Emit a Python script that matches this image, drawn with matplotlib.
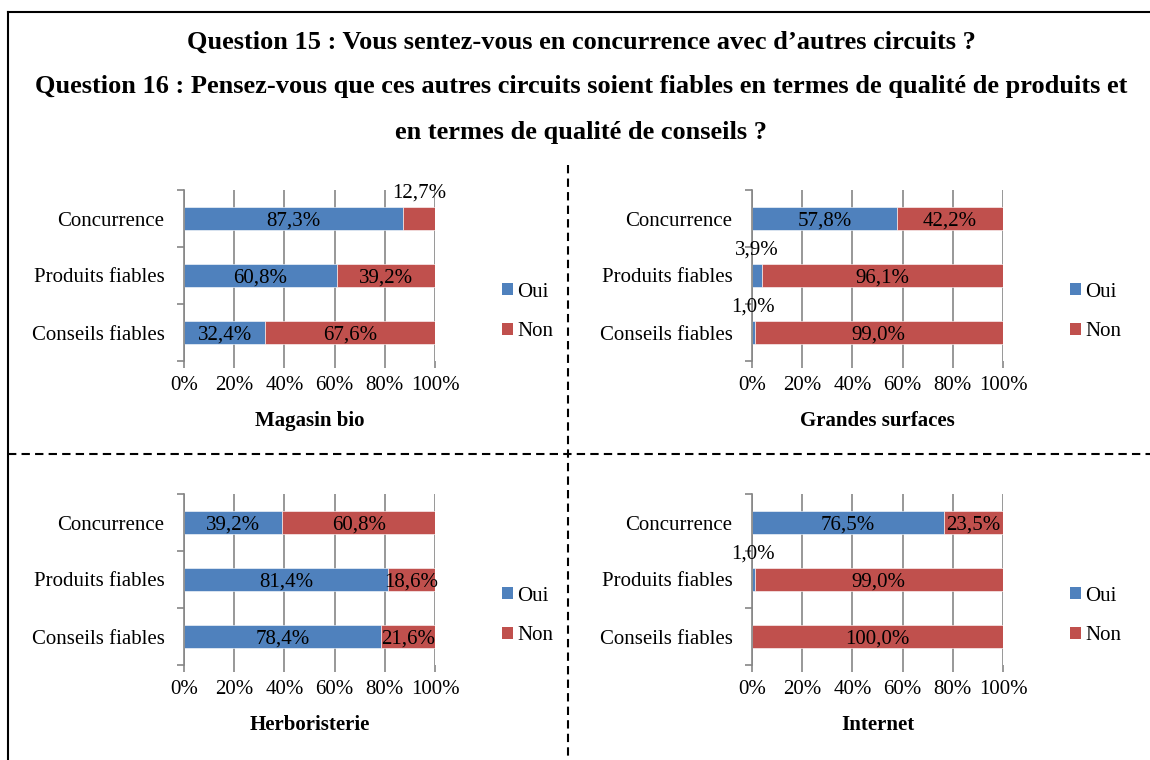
import matplotlib
matplotlib.use("Agg")
import matplotlib.pyplot as plt
from matplotlib.lines import Line2D
from matplotlib.patches import Patch

plt.rcParams['font.family'] = ['Liberation Serif', 'DejaVu Serif']

# Survey answers (percent of respondents)
categories = ["Concurrence", "Produits fiables", "Conseils fiables"]
series_names = ["Oui", "Non"]

magasin_oui = [87.3, 60.8, 32.4]
magasin_non = [12.7, 39.2, 67.6]

grandes_oui = [57.8, 3.9, 1.0]
grandes_non = [42.2, 96.1, 99.0]

herbo_oui = [39.2, 81.4, 78.4]
herbo_non = [60.8, 18.6, 21.6]

internet_oui = [76.5, 1.0, 0.0]
internet_non = [23.5, 99.0, 100.0]

panel_titles = ["Magasin bio", "Grandes surfaces", "Herboristerie", "Internet"]
x_ticks = [0, 20, 40, 60, 80, 100]
x_tick_labels = ["0%", "20%", "40%", "60%", "80%", "100%"]

title_lines = [
    "Question 15 : Vous sentez-vous en concurrence avec d\u2019autres circuits ?",
    "Question 16 : Pensez-vous que ces autres circuits soient fiables en termes de qualité de produits et",
    "en termes de qualité de conseils ?",
]

BLUE = "#4F81BD"
RED = "#C0504D"
GRID = "#868686"
FS = 15
TITLE_FS = 19

W, H = 1150, 760
fig = plt.figure(figsize=(W / 100, H / 100), dpi=100)


def fx(px):
    return px / W


def fy(py):
    return 1 - py / H


def fmt(v):
    return f"{v:.1f}%".replace(".", ",")


panels = [
    (magasin_oui, magasin_non, 184, 190),
    (grandes_oui, grandes_non, 752, 190),
    (herbo_oui, herbo_non, 184, 494),
    (internet_oui, internet_non, 752, 494),
]

for (oui, non, left_px, top_px), name in zip(panels, panel_titles):
    ax = fig.add_axes([fx(left_px), fy(top_px + 171), 251 / W, 171 / H])
    ypos = list(range(len(categories)))
    b1 = ax.barh(ypos, oui, height=0.4, color=BLUE, edgecolor="white",
                 linewidth=0.4, zorder=2)
    b2 = ax.barh(ypos, non, left=oui, height=0.4, color=RED, edgecolor="white",
                 linewidth=0.4, zorder=2)

    for bars, vals, lefts in ((b1, oui, [0] * 3), (b2, non, oui)):
        for y, v, l in zip(ypos, vals, lefts):
            if v <= 0:
                continue
            cx = l + v / 2
            if v < 15:
                ax.annotate(fmt(v), xy=(cx, y - 0.2), xytext=(0, 3),
                            textcoords="offset points", ha="center",
                            va="bottom", fontsize=FS, color="black",
                            annotation_clip=False)
            else:
                ax.text(cx, y, fmt(v), ha="center", va="center_baseline",
                        fontsize=FS, color="black", zorder=3)

    ax.set_xlim(0, 100)
    ax.set_ylim(2.5, -0.5)
    ax.set_xticks(x_ticks)
    ax.set_xticklabels(x_tick_labels, fontsize=FS)
    ax.set_yticks([-0.5, 0.5, 1.5, 2.5])
    ax.set_yticklabels([])
    ax.set_yticks(ypos, minor=True)
    ax.set_yticklabels(categories, minor=True, fontsize=FS)
    ax.tick_params(axis="y", which="major", length=5, width=1.2, color=GRID,
                   direction="out")
    ax.tick_params(axis="y", which="minor", length=0, pad=14)
    ax.tick_params(axis="x", length=5, width=1.2, color=GRID,
                   direction="out", pad=6)
    ax.grid(axis="x", color=GRID, linewidth=1.2, zorder=0)
    ax.set_axisbelow(True)
    for s in ("top", "right", "bottom"):
        ax.spines[s].set_visible(False)
    ax.spines["left"].set_color(GRID)
    ax.spines["left"].set_linewidth(1.2)
    ax.set_xlabel(name, fontsize=FS, fontweight="bold", labelpad=11)

    handles = [Patch(facecolor=BLUE, edgecolor="none"),
               Patch(facecolor=RED, edgecolor="none")]
    leg_x = left_px + 318
    leg_y = top_px + 122
    fig.legend(handles, series_names, loc="center left",
               bbox_to_anchor=(fx(leg_x), fy(leg_y)),
               bbox_transform=fig.transFigure, frameon=False, fontsize=FS,
               handlelength=0.55, handleheight=0.55, handletextpad=0.2,
               labelspacing=1.0, borderpad=0, borderaxespad=0)

# Titles
for txt, ypx in zip(title_lines, [42, 87, 133]):
    fig.text(fx(581), fy(ypx), txt, ha="center", va="center",
             fontsize=TITLE_FS, fontweight="bold")

# Outer frame (top and left edges)
fig.add_artist(Line2D([fx(8), 1], [fy(12), fy(12)], color="black", lw=1.5))
fig.add_artist(Line2D([fx(8), fx(8)], [fy(12), 0], color="black", lw=1.5))

# Dashed separators between the four panels
dash = (0, (4, 2.5))
fig.add_artist(Line2D([fx(568), fx(568)], [fy(165), 0], color="black",
                      lw=1.5, linestyle=dash))
fig.add_artist(Line2D([fx(8), 1], [fy(454), fy(454)], color="black",
                      lw=1.5, linestyle=dash))

fig.savefig("out.png", dpi=100)
